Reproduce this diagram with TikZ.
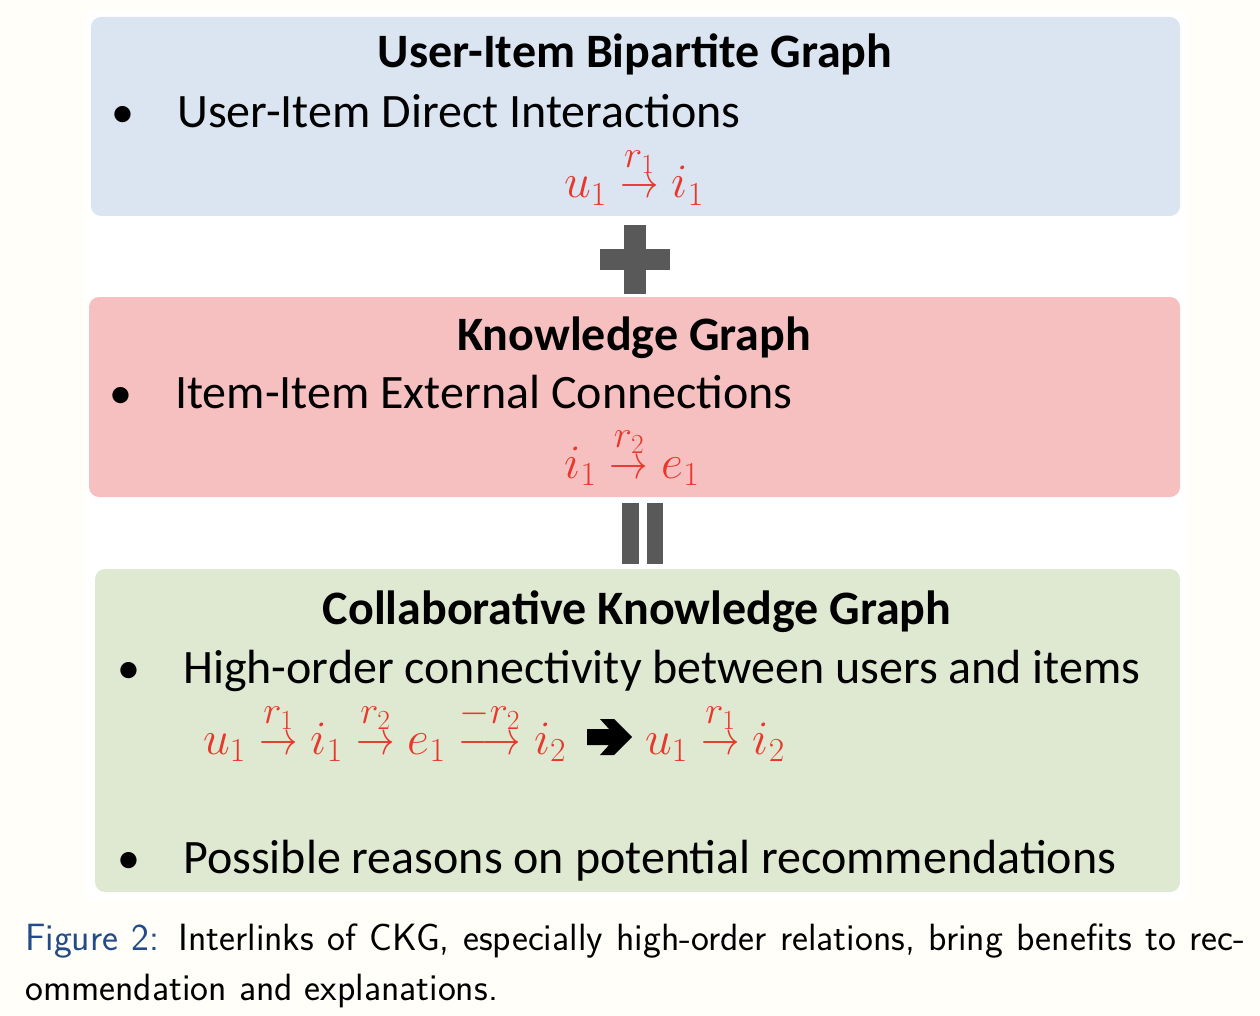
\RequirePackage{fix-cm}
\documentclass[tikz,border=0pt]{standalone}
\usepackage{amsmath}
\usepackage{graphicx}
\usepackage[no-math]{fontspec}
\setmainfont{Carlito}
\definecolor{pagebg}{RGB}{255,254,249}
\definecolor{bluebox}{RGB}{218,229,241}
\definecolor{pinkbox}{RGB}{247,192,192}
\definecolor{greenbox}{RGB}{223,233,210}
\definecolor{relred}{RGB}{232,56,44}
\definecolor{symgray}{RGB}{89,89,89}
\definecolor{capblue}{RGB}{35,75,135}
\newcommand{\myrto}[1]{\mathrel{\overset{\raisebox{8pt}{\scalebox{1.15}{$\scriptstyle #1$}}}{\scalebox{0.8}[1]{$\rightarrow$}}}}
\newcommand{\myrtolong}[1]{\mathrel{\overset{\raisebox{8pt}{\scalebox{1.15}{$\scriptstyle #1$}}}{\scalebox{0.8}[1]{$\longrightarrow$}}}}
\tikzset{
  ttl/.style={anchor=base, inner sep=0pt, font=\fontsize{48}{58}\selectfont\bfseries},
  itm/.style={anchor=base west, inner sep=0pt, font=\fontsize{48}{58}\selectfont},
  bul/.style={anchor=base west, inner sep=0pt, font=\fontsize{46}{58}\selectfont},
  rel/.style={inner sep=0pt, text=relred, font=\fontsize{48}{56}\selectfont},
  panel/.style={rounded corners=10pt},
  sym/.style={fill=symgray, draw=none},
  captxt/.style={anchor=base west, inner sep=0pt, font=\fontsize{38}{50}\selectfont\sffamily},
}
\begin{document}
\begin{tikzpicture}[x=1pt,y=-1pt]
\useasboundingbox (0,0) rectangle (1260,1016);
\fill[pagebg] (0,0) rectangle (1260,1016);
\fill[white] (86,10) rectangle (1186,900);
% panels
\fill[bluebox, panel] (91,17) rectangle (1180,216);
\fill[pinkbox, panel] (89,297) rectangle (1180,497);
\fill[greenbox, panel] (95,569) rectangle (1180,892);
% panel 1
\node[ttl] (t1) at (635,68) {User-Item Bipartite Graph};
\node[bul] (b1) at (111,128) {•};
\node[itm] (i1) at (177,128) {User-Item Direct Interactions};
\node[rel, anchor=base] (m1) at (634,198) {$u_1 \myrto{r_1} i_1$};
% plus
\fill[sym] (624,225) rectangle (646,294);
\fill[sym] (600,249) rectangle (670,270);
% panel 2
\node[ttl] (t2) at (634,350) {Knowledge Graph};
\node[bul] (b2) at (109,408) {•};
\node[itm] (i2) at (175,408) {Item-Item External Connections};
\node[rel, anchor=base] (m2) at (632,478) {$i_1 \myrto{r_2} e_1$};
% equals
\fill[sym] (622,503) rectangle (639,564);
\fill[sym] (647,503) rectangle (663,564);
% panel 3
\node[ttl] (t3) at (637,624) {Collaborative Knowledge Graph};
\node[bul] (b3) at (117,683) {•};
\node[itm] (i3) at (183,683) {High-order connectivity between users and items};
\node[rel, anchor=base west] (m3) at (203,754) {$u_1 \myrto{r_1} i_1 \myrto{r_2} e_1 \myrtolong{-r_2} i_2$};
\fill[black] (587,729) -- (609,729) -- (600,719) -- (614,719) -- (632,737) -- (614,755) -- (600,755) -- (609,745) -- (587,745) -- cycle;
\node[rel, anchor=base west] (m4) at (645,754) {$u_1 \myrto{r_1} i_2$};
\node[bul] (b4) at (117,873) {•};
\node[itm] (i4) at (183,873) {Possible reasons on potential recommendations};
% caption
\node[captxt] (c1) at (25,950) {\makebox[1220pt][s]{\textcolor{capblue}{Figure 2:} Interlinks of CKG, especially high-order relations, bring benefits to rec-}};
\node[captxt] (c2) at (25,1000) {ommendation and explanations.};
\end{tikzpicture}
\end{document}
